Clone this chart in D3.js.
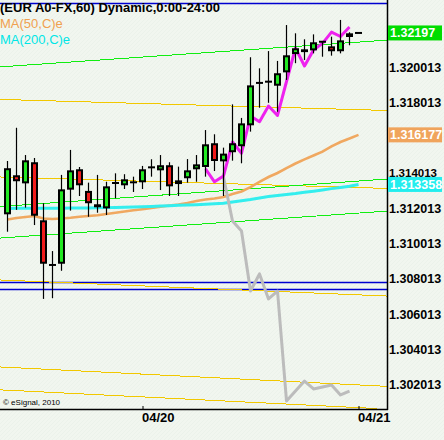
<!DOCTYPE html>
<html><head><meta charset="utf-8">
<script src="https://cdnjs.cloudflare.com/ajax/libs/d3/7.8.5/d3.min.js"></script>
<style>
html,body{margin:0;padding:0;background:#f1f6ef;}
svg{display:block;font-family:"Liberation Sans",Arial,sans-serif;}
</style></head><body>
<svg id="chart" width="444" height="440"></svg>
<script>
// ---- data (EUR A0-FX, 60 min bars) ----
const bars = d3.range(40);
const opens  = [1.31166,1.31388,1.31342,1.31462,1.31132,1.30878,1.30885,1.31306,1.31422,1.31299,1.31223,1.31200,1.31344,1.31331,1.31348,1.31348,1.31433,1.31416,1.31445,1.31338,1.31371,1.31422,1.31435,1.31570,1.31467,1.31519,1.31553,1.31672,1.31913,1.31920,1.31897,1.31973,1.32077,1.32093,1.32098,1.32147,1.32121,1.32093,1.32174,1.32197];
const highs  = [1.31469,1.31658,1.31503,1.31486,1.31229,1.30957,1.31390,1.31532,1.31435,1.31346,1.31390,1.31351,1.31399,1.31394,1.31380,1.31441,1.31479,1.31503,1.31462,1.31437,1.31480,1.31503,1.31645,1.31621,1.31545,1.31791,1.31714,1.32059,1.31996,1.32094,1.32038,1.32242,1.32195,1.32161,1.32189,1.32151,1.32176,1.32271,1.32201,1.32197];
const lows   = [1.31067,1.31191,1.31204,1.31105,1.30685,1.30689,1.30845,1.31187,1.31270,1.31152,1.31175,1.31162,1.31257,1.31310,1.31293,1.31310,1.31380,1.31304,1.31270,1.31270,1.31346,1.31351,1.31380,1.31412,1.31270,1.31471,1.31456,1.31636,1.31772,1.31800,1.31749,1.31930,1.32025,1.32043,1.32081,1.32062,1.32068,1.32081,1.32127,1.32197];
const closes = [1.31428,1.31354,1.31473,1.31158,1.30885,1.30878,1.31308,1.31416,1.31331,1.31229,1.31206,1.31325,1.31344,1.31365,1.31348,1.31422,1.31433,1.31445,1.31325,1.31359,1.31416,1.31450,1.31564,1.31469,1.31511,1.31570,1.31683,1.31899,1.31913,1.31920,1.31968,1.32070,1.32110,1.32104,1.32144,1.32147,1.32093,1.32155,1.32195,1.32197];

const ma50  = [1.31137,1.31145,1.31151,1.31156,1.31142,1.31139,1.31142,1.31146,1.31152,1.31156,1.31161,1.31168,1.31175,1.31182,1.31189,1.31195,1.31202,1.31209,1.31216,1.31222,1.31230,1.31242,1.31250,1.31256,1.31264,1.31282,1.31296,1.31321,1.31350,1.31378,1.31401,1.31429,1.31455,1.31478,1.31500,1.31522,1.31552,1.31577,1.31597,1.316177];
const ma200 = [1.31199,1.31200,1.31200,1.31200,1.31201,1.31201,1.31201,1.31202,1.31202,1.31202,1.31203,1.31204,1.31205,1.31206,1.31208,1.31209,1.31211,1.31213,1.31215,1.31217,1.31219,1.31221,1.31223,1.31226,1.31229,1.31236,1.31243,1.31250,1.31259,1.31267,1.31273,1.31279,1.31284,1.31291,1.31297,1.31304,1.31312,1.31319,1.31326,1.313358];

const magentaStart = 22;
const magentaLine = [1.31424,1.31351,1.31384,1.31577,1.31513,1.31725,1.31692,1.31782,1.31728,1.31921,1.32111,1.32009,1.32100,1.32138,1.32202,1.32177,1.32231];
const grayStart = 24;
const grayLine = [1.31378,1.31128,1.31071,1.30730,1.30827,1.30685,1.30730,1.30105,1.30161,1.30218,1.30173,1.30184,1.30196,1.30139,1.30161];

// trend lines: price at bar 0 and price at bar 39
const yellowLines = [[1.31818,1.31761],[1.31377,1.31318],[1.30791,1.30708],[1.30296,1.30196],[1.30166,1.30067]];
const yellowEndBar = [null,null,null,null,41.1];
const greenLines  = [[1.32007,1.32145],[1.31213,1.31355],[1.31034,1.31173]];
const blueLevels  = [1.32367,1.30781,1.30741];

const priceTicks = [1.302013,1.304013,1.306013,1.308013,1.310013,1.312013,1.314013,1.318013,1.320013];
const dateTickBars = [15,39];
const dateLabels = ["04/20","04/21"];
const lastValues = [1.32197,1.316177,1.313358];
const lastColors = ["#00dd00","#f0a45c","#22eeee"];

// ---- layout ----
const svg = d3.select("#chart");
const plotW = 387, plotH = 409;
const x = d3.scaleLinear().domain([0,39]).range([7.5,358.5]);
const y = d3.scaleLinear().domain([1.302013,1.322013]).range([384,32.2]);
const xLeft = x.invert(0), xRight = x.invert(plotW);

const defs = svg.append("defs");
defs.append("clipPath").attr("id","clip")
  .append("rect").attr("x",0).attr("y",0).attr("width",plotW).attr("height",plotH);
const pat = defs.append("pattern").attr("id","hatch")
  .attr("width",4).attr("height",4).attr("patternUnits","userSpaceOnUse");
pat.append("rect").attr("width",4).attr("height",4).attr("fill","#f1f6ef");
pat.append("path").attr("d","M0,4 L4,0").attr("stroke","#e8f0e6").attr("stroke-width",0.6);
svg.append("rect").attr("width",444).attr("height",440).attr("fill","url(#hatch)");

const g = svg.append("g").attr("clip-path","url(#clip)");

// blue horizontal levels
g.selectAll(".blue").data(blueLevels).enter().append("line")
  .attr("x1",0).attr("x2",plotW).attr("y1",d=>Math.round(y(d))+0.5).attr("y2",d=>Math.round(y(d))+0.5)
  .attr("stroke","#0000d0").attr("stroke-width",1.3);

function trend(sel, data, ends, color, w){
  sel.data(data).enter().append("line")
    .attr("x1",x(xLeft)).attr("y1",d=>y(d[0]+(d[1]-d[0])*(xLeft/39)))
    .attr("x2",(d,i)=>x(ends && ends[i]!=null?ends[i]:xRight))
    .attr("y2",(d,i)=>{const b=(ends && ends[i]!=null?ends[i]:xRight); return y(d[0]+(d[1]-d[0])*(b/39));})
    .attr("stroke",color).attr("stroke-width",w).attr("shape-rendering","crispEdges");
}
trend(g.selectAll(".yl"), yellowLines, yellowEndBar, "#f2c800", 1);
trend(g.selectAll(".gl"), greenLines, null, "#11ee11", 1);

const line = d3.line().x(d=>x(d[0])).y(d=>y(d[1]));
g.append("path").datum(ma50.map((v,i)=>[i,v])).attr("d",line)
  .attr("fill","none").attr("stroke","#f0a860").attr("stroke-width",2.6);
g.append("path").datum(ma200.map((v,i)=>[i,v])).attr("d",line)
  .attr("fill","none").attr("stroke","#33eeee").attr("stroke-width",3);
g.append("path").datum(grayLine.map((v,i)=>[i+grayStart,v])).attr("d",line)
  .attr("fill","none").attr("stroke","#bcbcbc").attr("stroke-width",3).attr("stroke-linejoin","round");
g.append("path").datum(magentaLine.map((v,i)=>[i+magentaStart,v])).attr("d",line)
  .attr("fill","none").attr("stroke","#ee22ee").attr("stroke-width",3).attr("stroke-linejoin","round");

// candles
const cg = g.selectAll(".c").data(bars).enter().append("g");
cg.filter(i=>highs[i]!==lows[i]).append("line")
  .attr("x1",i=>x(i)).attr("x2",i=>x(i)).attr("y1",i=>y(highs[i])).attr("y2",i=>y(lows[i]))
  .attr("stroke","#000").attr("stroke-width",1.2);
cg.filter(i=>opens[i]!==closes[i]).append("rect")
  .attr("x",i=>x(i)-2.5).attr("width",5)
  .attr("y",i=>y(Math.max(opens[i],closes[i]))+1)
  .attr("height",i=>Math.max(0.8, y(Math.min(opens[i],closes[i]))-y(Math.max(opens[i],closes[i]))-2))
  .attr("fill",i=>closes[i]>opens[i]?"#22e822":"#f01c1c")
  .attr("stroke","#000").attr("stroke-width",2);
cg.filter(i=>opens[i]===closes[i]).append("line")
  .attr("x1",i=>x(i)-3.5).attr("x2",i=>x(i)+3.5)
  .attr("y1",i=>y(opens[i])).attr("y2",i=>y(opens[i]))
  .attr("stroke","#000").attr("stroke-width",2);

// right price axis
defs.append("clipPath").attr("id","axclip")
  .append("rect").attr("x",plotW).attr("y",0).attr("width",60).attr("height",177);
defs.append("clipPath").attr("id","axclip2")
  .append("rect").attr("x",plotW).attr("y",177).attr("width",60).attr("height",263);
const ra = svg.append("g").attr("transform",`translate(${plotW},0)`)
  .call(d3.axisRight(y).tickValues(priceTicks).tickSize(0).tickPadding(2).tickFormat(d3.format(".6f")));
ra.select(".domain").remove();
ra.selectAll("text").attr("font-family","Liberation Sans, Arial, sans-serif")
  .attr("font-size",12.5).attr("font-weight","bold").attr("fill","#000").attr("dy","0.35em");
// the 1.314013 label is partly hidden under the MA(200) box: show only its upper part
ra.selectAll(".tick").filter(d=>Math.abs(d-1.314013)<1e-9).select("text")
  .attr("font-size",11.5);
svg.append("line").attr("x1",plotW+0.5).attr("x2",plotW+0.5).attr("y1",0).attr("y2",plotH+1)
  .attr("stroke","#000").attr("stroke-width",1.5);

// last-value boxes
const lb = svg.selectAll(".lb").data(lastValues).enter().append("g");
lb.append("rect").attr("x",plotW+1).attr("y",d=>y(d)-7.5).attr("width",444-plotW-3).attr("height",15)
  .attr("fill",(d,i)=>lastColors[i]);
lb.append("text").attr("x",plotW+3).attr("y",d=>y(d)).attr("dy","0.36em")
  .attr("font-size",12.5).attr("font-weight","bold").attr("fill","#fff")
  .text(d=>d3.format(".6f")(d).replace(/0$/,""));

// bottom time axis
const ba = svg.append("g").attr("transform",`translate(0,${plotH})`)
  .call(d3.axisBottom(x).tickValues(dateTickBars).tickSizeInner(-3).tickSizeOuter(0)
  .tickFormat((d,i)=>dateLabels[i]));
ba.select(".domain").remove();
ba.selectAll("line").attr("stroke","#000");
ba.selectAll("text").attr("text-anchor","start").attr("x",-1).attr("y",13).attr("dy","0")
  .attr("font-family","Liberation Sans, Arial, sans-serif")
  .attr("font-size",13).attr("font-weight","bold").attr("fill","#000");
svg.append("line").attr("x1",0).attr("x2",plotW+1).attr("y1",plotH+0.5).attr("y2",plotH+0.5)
  .attr("stroke","#000").attr("stroke-width",1.5);

// titles
svg.append("text").attr("x",0).attr("y",11.5).attr("font-size",13).attr("font-weight","bold")
  .attr("fill","#000").text("(EUR A0-FX,60) Dynamic,0:00-24:00");
svg.append("text").attr("x",0).attr("y",28).attr("font-size",13).attr("fill","#f0a050").text("MA(50,C)e");
svg.append("text").attr("x",0).attr("y",44).attr("font-size",13).attr("fill","#00e6e6").text("MA(200,C)e");
svg.append("text").attr("x",3).attr("y",404.5).attr("font-size",8).attr("fill","#000").text("© eSignal, 2010");
</script>
</body></html>
